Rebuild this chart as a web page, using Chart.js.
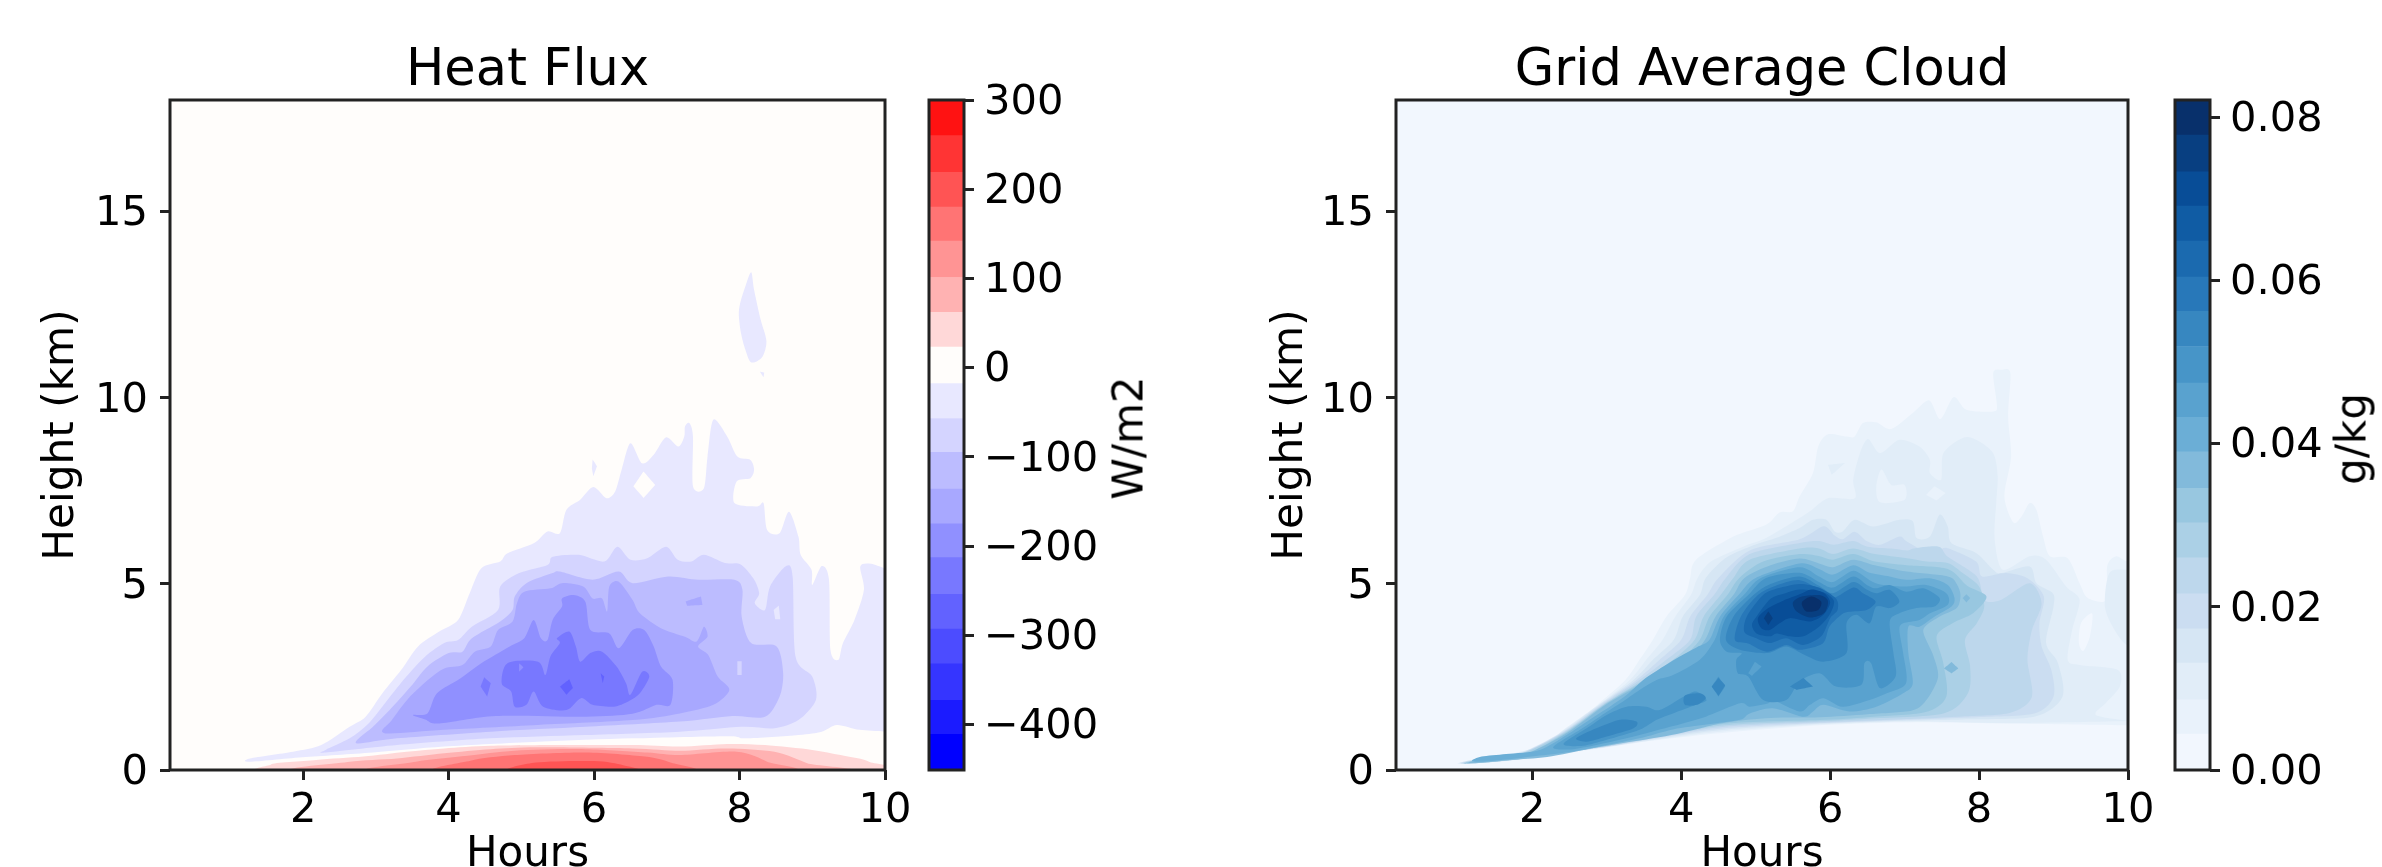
<!DOCTYPE html>
<html>
<head>
<meta charset="utf-8">
<title>Heat Flux and Grid Average Cloud</title>
<script src="https://cdn.jsdelivr.net/npm/chart.js@4"></script>
<style>
    html, body { margin: 0; padding: 0; background: #fff; width: 2382px; height: 867px; overflow: hidden; }
    #page { position: relative; width: 2382px; height: 867px; overflow: hidden; filter: blur(0.7px); }
    canvas { position: absolute; top: 0; }
    .cbarLabel { position: absolute; font: 42px "DejaVu Sans"; color: #000; white-space: nowrap; transform: translate(-50%, -50%) rotate(-90deg); }
</style>
</head>
<body>
<div id="page">
    <canvas id="heatChart" style="left:0;width:925px;height:900px" width="925" height="900"></canvas>
    <canvas id="heatBar" style="left:900px;width:310px;height:900px" width="310" height="900"></canvas>
    <canvas id="cloudChart" style="left:1226px;width:942px;height:900px" width="942" height="900"></canvas>
    <canvas id="cloudBar" style="left:2145px;width:237px;height:900px" width="237" height="900"></canvas>
    <div class="cbarLabel" style="left:1128px;top:438px">W/m2</div>
    <div class="cbarLabel" style="left:2351px;top:439px">g/kg</div>
</div>
<script>
// ticks
var hourTicks = [2, 4, 6, 8, 10];
var heightTicks = [0, 5, 10, 15];
var heatBarTicks = [-400, -300, -200, -100, 0, 100, 200, 300];
var heatBarLabels = ['\u2212400', '\u2212300', '\u2212200', '\u2212100', '0', '100', '200', '300'];
var cloudBarTicks = [0, 0.02, 0.04, 0.06, 0.08];
var cloudBarLabels = ['0.00', '0.02', '0.04', '0.06', '0.08'];

// colour bar bands, bottom to top
var heatEdges = [-451, -411, -373, -332, -293, -254, -213, -175, -136, -95, -57, -18, 23, 62, 101, 142, 180, 219, 260, 300];
var cloudEdges = [0, 0.0044, 0.0086, 0.0131, 0.0173, 0.0216, 0.026, 0.0303, 0.0345, 0.039, 0.0432, 0.0474, 0.0519, 0.0562, 0.0604, 0.0648, 0.0691, 0.0733, 0.0778, 0.0821];
var heatColors = ['#0000ff', '#1b1bff', '#3535ff', '#4c4cff', '#6262ff', '#7878ff', '#9090ff', '#a8a8ff', '#bcbcff', '#d4d4ff', '#e8e8ff', '#fffdfb', '#ffd8d8', '#ffb2b2', '#ff9494', '#ff7474', '#ff5454', '#ff3434', '#ff1212'];
var cloudColors = ['#f2f7fe', '#e9f2fb', '#e1edf8', '#d6e6f4', '#cbddf1', '#bdd7ec', '#abd0e6', '#98c7e0', '#82badb', '#6baed6', '#59a2cf', '#4795c8', '#3787c0', '#2878b9', '#1b6aaf', '#105ca4', '#084d97', '#083f81', '#08306b'];

// Heat flux contours: [hours, km]
var plotCorners = [[0.17, 0], [10, 0], [10, 18], [0.17, 18]];
var heatPlume = [[8.16,13.37],[8.08,12.99],[8.01,12.55],[7.99,12.23],[8.02,11.74],[8.08,11.29],[8.16,10.95],[8.31,11.09],[8.37,11.52],[8.29,12.1],[8.2,12.9]];
var heatSpeck = [[8.28,10.7],[8.34,10.68],[8.33,10.55]];
var heatLobe = [[5.98,8.34],[6.04,8.16],[5.99,7.89],[5.97,8.1]];
var heatM1 = [[1.27,0.31],[1.86,0.49],[2.25,0.67],[2.64,1.16],[2.86,1.43],[3.09,2.06],[3.35,2.69],[3.58,3.32],[3.87,3.72],[4.13,4.03],[4.29,4.75],[4.45,5.42],[4.71,5.6],[4.81,5.82],[5.17,6.09],[5.36,6.41],[5.53,6.36],[5.62,6.99],[5.81,7.26],[5.99,7.6],[6.17,7.3],[6.29,7.48],[6.38,8.07],[6.5,8.78],[6.66,8.24],[6.82,8.47],[6.99,8.94],[7.16,8.69],[7.24,8.96],[7.25,9.23],[7.31,9.32],[7.36,8.96],[7.36,7.62],[7.51,7.57],[7.56,8.42],[7.64,9.41],[7.83,8.96],[7.97,8.42],[8.15,8.33],[8.2,8.07],[8.15,7.84],[7.96,7.75],[7.93,7.17],[8.24,7.08],[8.33,7.17],[8.38,6.45],[8.55,6.36],[8.68,6.94],[8.81,6.27],[8.84,5.78],[8.99,5.38],[9,4.97],[9.13,5.48],[9.23,5.11],[9.25,3.23],[9.36,2.96],[9.42,3.4],[9.58,4.03],[9.71,4.84],[9.66,5.47],[9.81,5.54],[10.05,5.38],[10.3,5.3],[10.3,1.03],[10.05,1.03],[9.65,1.08],[9.34,1.21],[9.13,1.03],[8.81,0.94],[8.09,0.85],[7.83,0.91],[6.53,0.85],[5.23,0.76],[3.94,0.63],[2.96,0.47],[1.99,0.34],[1.27,0.22]];
var heatHole = [[6.68,8.02],[6.84,7.66],[6.68,7.31],[6.54,7.62]];
var heatM2 = [[2.31,0.54],[2.64,0.85],[2.9,1.25],[3.16,1.88],[3.42,2.51],[3.68,3.05],[3.94,3.41],[4.13,3.49],[4.32,3.85],[4.68,4.3],[4.71,4.93],[4.97,5.29],[5.36,5.51],[5.43,5.73],[5.79,5.78],[6.14,5.6],[6.32,6],[6.5,5.65],[6.73,5.69],[6.99,6],[7.15,5.65],[7.34,5.6],[7.51,5.78],[7.8,5.56],[8.01,5.53],[8.19,5.15],[8.27,4.75],[8.21,4.48],[8.35,4.3],[8.42,4.93],[8.64,5.48],[8.73,5.2],[8.77,3.05],[9,2.51],[9.05,1.88],[8.81,1.34],[8.48,1.12],[8.03,1.16],[7.18,1.03],[5.88,0.94],[4.58,0.85],[3.29,0.67],[2.31,0.47]];
var heatM2Spot = [[8.47,4.3],[8.54,4.42],[8.56,4.05],[8.49,4.05]];
var heatM3 = [[2.73,0.72],[2.96,1.16],[3.19,1.61],[3.48,2.24],[3.71,2.78],[4,3.14],[4.19,3.18],[4.32,3.54],[4.71,3.99],[4.88,4.3],[4.91,4.66],[5.07,5.02],[5.43,5.29],[5.53,5.33],[5.98,5.11],[6.34,5.33],[6.53,5.02],[7.02,5.2],[7.44,5.11],[7.93,5.11],[8.04,4.84],[8.03,4.12],[8.16,3.41],[8.51,3.32],[8.6,2.6],[8.55,1.97],[8.35,1.43],[7.9,1.45],[7.18,1.3],[5.88,1.16],[4.58,1.03],[3.29,0.85]];
var heatM3Spot = [[7.97,2.92],[8.03,2.92],[8.03,2.55],[7.97,2.55]];
var heatM4 = [[3.12,0.99],[3.22,1.34],[3.45,1.93],[3.74,2.46],[3.94,2.73],[4.19,2.82],[4.36,3.18],[4.58,3.32],[4.68,3.76],[4.88,3.99],[4.94,4.48],[5.04,4.79],[5.4,4.88],[5.56,5.02],[5.85,4.93],[5.98,4.61],[6.11,4.61],[6.18,4.26],[6.21,4.93],[6.34,5.06],[6.53,4.57],[6.63,4.21],[6.92,3.81],[7.25,3.58],[7.41,3.45],[7.51,3.85],[7.56,3.58],[7.43,3.32],[7.57,3.09],[7.7,2.51],[7.86,2.15],[7.64,1.75],[7.18,1.52],[6.53,1.34],[5.23,1.21],[3.94,1.08]];
var heatM4Blob = [[7.26,4.53],[7.47,4.66],[7.49,4.43],[7.28,4.41]];
var heatM5 = [[3.51,1.48],[3.71,1.52],[3.84,2.06],[4.16,2.46],[4.45,2.87],[4.84,3.32],[5.04,3.54],[5.17,4.03],[5.27,3.54],[5.36,3.49],[5.43,4.03],[5.56,4.39],[5.56,4.61],[5.72,4.7],[5.88,4.52],[5.95,3.76],[6.21,3.67],[6.34,3.27],[6.53,3.76],[6.69,3.76],[6.82,3.32],[6.92,2.78],[7.08,2.42],[7.05,1.75],[6.86,1.75],[6.53,1.51],[5.88,1.43],[4.65,1.45],[3.87,1.25],[3.68,1.36]];
var heatM6 = [[4.73,2.33],[4.81,2.87],[5.23,2.91],[5.33,2.55],[5.4,3.05],[5.53,3.41],[5.49,3.54],[5.66,3.72],[5.75,3.32],[5.81,2.91],[5.95,3.14],[6.11,3.18],[6.31,2.78],[6.44,2.33],[6.5,2.02],[6.66,2.64],[6.76,2.51],[6.63,2.06],[6.47,1.84],[6.27,1.7],[5.98,1.75],[5.82,1.93],[5.62,1.61],[5.3,1.7],[5.17,2.11],[5.07,1.75],[4.91,1.7],[4.86,2.11]];
var heatM6Blob = [[4.44,2.24],[4.49,2.49],[4.58,2.33],[4.53,1.97]];
var heatM6Hole = [[4.97,2.87],[5.03,2.76],[4.97,2.64]];
var heatM7a = [[5.53,2.24],[5.66,2.44],[5.71,2.2],[5.62,2.02]];
var heatM7b = [[6.09,2.6],[6.14,2.51],[6.12,2.33]];
var heatP1 = [[1.56,0.15],[2.18,0.27],[2.83,0.36],[3.42,0.49],[3.94,0.58],[4.58,0.65],[5.56,0.67],[6.53,0.67],[7.18,0.63],[7.83,0.7],[8.35,0.67],[9,0.54],[9.39,0.4],[9.78,0.22],[9.77,-0.1],[2,-0.1]];
var heatP2 = [[2.15,-0.05],[2.64,0.22],[3.29,0.31],[3.94,0.45],[4.58,0.56],[5.23,0.61],[6.53,0.58],[7.18,0.52],[7.83,0.58],[8.48,0.49],[8.93,0.18],[9.19,-0.05]];
var heatP3 = [[3.09,-0.05],[3.55,0.22],[4.26,0.38],[4.91,0.52],[5.88,0.56],[6.73,0.47],[7.18,0.4],[7.96,0.49],[8.38,0.22],[8.48,-0.05]];
var heatP4 = [[3.9,-0.05],[4.3,0.25],[4.91,0.4],[5.88,0.47],[6.7,0.36],[7.05,0.2],[7.25,-0.05]];
var heatP5 = [[4.85,-0.03],[5.2,0.2],[6,0.24],[6.4,0.13],[6.55,-0.03]];

// Cloud contours: [hours, km]
var cloudL1 = [[1.03,0.2],[1.3,0.3],[1.7,0.4],[2.21,0.67],[2.5,1.1],[2.9,1.8],[3.25,2.42],[3.44,2.96],[3.62,3.5],[3.8,4.12],[4.05,4.7],[4.12,5.16],[4.2,5.65],[4.7,6.27],[5.14,6.59],[5.32,6.92],[5.5,6.95],[5.59,7.35],[5.77,7.98],[5.84,8.69],[5.97,9.02],[6.22,8.96],[6.33,8.96],[6.44,9.32],[6.62,9.34],[6.82,9.16],[7.11,9.59],[7.33,9.93],[7.48,9.43],[7.66,10.02],[7.83,9.68],[8.19,9.63],[8.24,9.81],[8.19,10.66],[8.3,10.75],[8.42,10.66],[8.39,9.5],[8.43,8.42],[8.34,7.35],[8.46,6.65],[8.57,6.81],[8.68,7.17],[8.77,6.99],[8.86,6.27],[8.95,5.74],[9.19,5.69],[9.35,5.02],[9.46,4.62],[9.71,4.57],[9.72,5.47],[9.84,5.74],[10,5.6],[10.3,5.6],[10.3,1.2],[10,1.2],[8.42,1.24],[7.14,1.28],[5.86,1.2],[4.58,1],[3.62,0.79],[2.98,0.6],[2.34,0.43],[1.7,0.25],[1.06,0.16]];
var cloudHole = [[9.34,3.42],[9.37,3.95],[9.52,4.2],[9.49,3.6],[9.4,3.2]];
var cloudL2 = [[1.03,0.2],[1.35,0.33],[1.76,0.45],[2.28,0.75],[2.37,1],[2.92,1.8],[3.31,2.42],[3.53,2.96],[3.75,3.5],[3.92,4.12],[4.13,4.7],[4.22,5.16],[4.4,5.6],[4.83,6],[5.14,6.23],[5.55,6.72],[5.73,6.95],[5.97,7.3],[6.33,7.3],[6.31,7.8],[6.4,8.51],[6.51,8.89],[6.67,8.51],[6.93,8.87],[7.2,8.69],[7.34,8.33],[7.34,7.98],[7.49,7.8],[7.52,8.51],[7.78,8.92],[7.96,8.87],[8.19,8.51],[8.25,7.89],[8.23,7.17],[8.21,6.18],[8.32,5.38],[8.68,5.74],[8.9,5.65],[9.17,4.93],[9.35,4.57],[9.25,3.76],[9.19,2.96],[9.35,2.82],[9.86,2.69],[9.89,2.24],[9.7,1.79],[9.57,1.48],[10,1.33],[10.3,1.33],[8.42,1.26],[7.14,1.3],[5.86,1.22],[4.58,1.04],[3.62,0.8],[2.98,0.61],[2.34,0.44],[1.7,0.255],[1.1,0.165]];
var cloudL2Edge = [[9.69,4.39],[9.75,5.29],[10,5.38],[10.3,5.38],[10.3,3.34],[10,3.34],[9.82,3.76]];
var cloudHoleA = [[6.69,8.07],[6.82,7.66],[7,7.66],[7,7.26],[6.67,7.19],[6.62,7.62]];
var cloudHoleB = [[7.29,7.39],[7.4,7.62],[7.55,7.44],[7.43,7.24]];
var cloudSpotA = [[5.97,8.2],[6.2,8.25],[6.02,7.93]];
var cloudL3 = [[1.04,0.2],[1.4,0.34],[1.85,0.47],[2.38,1],[2.93,1.8],[3.36,2.42],[3.62,2.96],[3.9,3.5],[4.02,4.12],[4.25,4.7],[4.33,5.16],[4.6,5.7],[4.92,6],[5.3,6.25],[5.59,6.5],[5.77,6.72],[5.95,6.72],[6.06,6.41],[6.17,6.41],[6.33,6.72],[6.58,6.54],[6.93,6.72],[7.11,6.68],[7.16,6.23],[7.34,6.27],[7.47,6.86],[7.58,6.54],[7.63,6.09],[7.96,5.83],[8.19,5.38],[8.3,5.29],[8.68,5.47],[8.77,5.02],[8.99,4.75],[9,4.39],[8.9,3.41],[9.06,2.87],[9.12,1.97],[8.74,1.43],[7.78,1.36],[7.14,1.33],[5.86,1.24],[4.58,1.08],[3.62,0.82],[2.98,0.615],[2.34,0.445],[1.7,0.26],[1.12,0.17]];
var cloudL4 = [[1.06,0.2],[1.4,0.33],[1.85,0.45],[2.4,1],[2.95,1.8],[3.4,2.42],[3.71,2.96],[4,3.5],[4.12,4.12],[4.35,4.7],[4.5,5.16],[4.92,5.9],[5.59,6.2],[5.91,6.55],[6.06,6.3],[6.17,6.2],[6.33,6.4],[6.49,6.15],[6.67,6.05],[6.93,6.27],[7.03,6.14],[7.34,5.8],[7.47,5.9],[7.58,5.96],[7.96,5.6],[8.04,5.2],[8.36,5.29],[8.65,5.15],[8.87,4.66],[8.81,3.94],[8.84,3.32],[8.97,2.69],[9,1.97],[8.74,1.52],[7.97,1.42],[7.14,1.36],[5.86,1.26],[4.58,1.12],[3.62,0.84],[2.98,0.62],[2.34,0.45],[1.7,0.26],[1.14,0.17]];
var cloudL5 = [[1.08,0.2],[1.4,0.32],[1.85,0.44],[2.41,1],[2.97,1.8],[3.44,2.42],[3.8,2.96],[4.12,3.5],[4.2,4.12],[4.44,4.7],[4.6,5.16],[4.92,5.8],[5.59,6.1],[5.85,6.15],[6.05,6.05],[6.31,6.15],[6.5,6],[6.82,5.95],[7.03,5.9],[7.14,5.96],[7.46,6],[7.58,5.73],[7.97,5.2],[8.07,4.57],[8.29,4.57],[8.68,5.02],[8.84,4.48],[8.71,3.76],[8.65,2.96],[8.71,1.97],[8.42,1.54],[7.78,1.44],[7.14,1.38],[5.86,1.28],[4.58,1.16],[3.62,0.86],[2.98,0.63],[2.34,0.46],[1.7,0.26],[1.16,0.175]];
var cloudL6 = [[1.1,0.2],[1.4,0.32],[1.85,0.43],[2.43,1],[2.99,1.8],[3.49,2.42],[3.89,2.96],[4.18,3.5],[4.3,4.12],[4.53,4.7],[4.7,5.16],[4.92,5.65],[5.59,5.95],[5.85,5.95],[6.04,5.8],[6.31,5.95],[6.6,5.8],[7.03,5.69],[7.3,5.6],[7.58,5.56],[7.78,5.29],[8,4.93],[8.07,4.39],[7.97,3.94],[7.81,3.49],[7.88,2.78],[7.85,2.06],[7.52,1.52],[6.5,1.38],[5.86,1.31],[4.58,1.2],[3.62,0.88],[2.98,0.64],[2.4,0.47],[1.7,0.26],[1.18,0.18]];
var cloudL7 = [[1.12,0.2],[1.4,0.31],[1.9,0.43],[2.45,1],[3,1.8],[3.53,2.42],[3.98,2.96],[4.25,3.5],[4.38,4.12],[4.62,4.7],[4.78,5.16],[5.1,5.6],[5.59,5.8],[5.85,5.75],[6.04,5.65],[6.31,5.8],[6.6,5.6],[7.03,5.5],[7.58,5.4],[7.84,4.95],[8.1,4.66],[7.92,4.21],[7.65,3.95],[7.43,3.6],[7.52,2.87],[7.56,1.97],[7.27,1.55],[6.5,1.42],[5.86,1.34],[4.58,1.24],[3.62,0.89],[2.98,0.65],[2.53,0.5],[1.7,0.27],[1.2,0.18]];
var cloudL8 = [[1.15,0.21],[1.4,0.31],[1.9,0.42],[2.47,1],[3.02,1.8],[3.58,2.42],[4.07,2.96],[4.32,3.5],[4.46,4.12],[4.7,4.7],[4.85,5.16],[5.2,5.5],[5.59,5.68],[5.85,5.55],[6.04,5.45],[6.31,5.65],[6.6,5.5],[7.03,5.33],[7.58,5.2],[7.7,5],[7.75,4.7],[7.7,4.35],[7.45,4.1],[7.25,3.76],[7.38,3.1],[7.45,2.5],[7.3,1.9],[7.1,1.6],[6.5,1.5],[5.86,1.42],[5.2,1.4],[4.58,1.27],[3.94,0.97],[3.3,0.75],[2.79,0.58],[2.2,0.35],[1.7,0.27],[1.25,0.19]];
var cloudL8Spot = [[7.78,4.62],[7.83,4.72],[7.88,4.62],[7.83,4.5]];
var cloudL8SpotB = [[7.53,2.73],[7.63,2.9],[7.72,2.73],[7.63,2.6]];
var cloudL9 = [[1.19,0.25],[1.32,0.36],[1.65,0.43],[2.1,0.54],[2.46,0.94],[2.77,1.35],[3.04,1.7],[3.27,2.02],[3.49,2.42],[3.76,2.78],[3.98,3.05],[4.21,3.3],[4.38,3.5],[4.52,4.12],[4.77,4.7],[5,5.16],[5.59,5.55],[5.85,5.4],[6.04,5.25],[6.31,5.5],[6.53,5.3],[6.8,5.2],[7.02,5.11],[7.34,5.15],[7.58,4.97],[7.67,4.62],[7.63,4.39],[7.4,4.12],[7.2,3.85],[7.05,3.85],[7.05,3.14],[7.11,2.33],[6.98,2.06],[6.62,1.7],[6.26,1.57],[5.91,1.75],[5.77,1.57],[5.64,1.43],[5.23,1.66],[4.92,1.52],[4.79,1.35],[4.34,1.22],[3.89,1.09],[3.44,0.85],[3,0.67],[2.55,0.5],[2.1,0.39],[1.65,0.28],[1.32,0.22]];
var cloudL10 = [[2.28,0.61],[2.64,1.08],[2.91,1.44],[3.18,1.79],[3.44,2.15],[3.67,2.42],[3.89,2.55],[4.25,2.96],[4.45,3.5],[4.57,4.12],[4.84,4.7],[5.07,5.16],[5.59,5.45],[5.85,5.2],[6.04,5.05],[6.31,5.35],[6.53,5.1],[6.69,4.98],[7.02,4.93],[7.29,4.97],[7.56,4.75],[7.58,4.44],[7.34,4.21],[7.2,4.03],[6.98,3.94],[6.93,3.76],[6.98,3.14],[7.02,2.33],[6.76,2.06],[6.53,1.88],[6.17,1.7],[5.91,1.93],[5.73,1.75],[5.59,1.57],[5.23,1.88],[5.17,1.79],[4.92,1.7],[4.79,1.79],[4.34,1.44],[3.89,1.18],[3.44,0.94],[3,0.73],[2.55,0.56]];
var cloudL11 = [[4.52,3.5],[4.61,4.12],[4.9,4.7],[5.14,5.16],[5.59,5.3],[5.85,5.05],[6.04,4.9],[6.31,5.2],[6.51,4.95],[6.62,4.88],[6.8,4.97],[7.02,4.79],[7.25,4.88],[7.47,4.62],[7.4,4.39],[7.16,4.35],[6.93,4.21],[6.8,3.99],[6.85,3.14],[6.88,2.51],[6.67,2.2],[6.55,2.87],[6.46,2.87],[6.42,2.29],[6.08,2.24],[5.86,2.6],[5.59,2.38],[5.41,1.88],[5.1,1.88],[4.9,2.51],[4.76,2.6],[4.74,2.96],[4.81,3.14],[4.61,3.18]];
var cloudL11Hole = [[4.9,2.6],[4.99,2.91],[5.08,2.78],[4.95,2.53]];
var cloudL11Base = [[2.42,0.7],[2.73,1.12],[3,1.48],[3.27,1.7],[3.53,1.7],[3.71,1.61],[4.03,1.97],[4.2,2.11],[4.34,1.88],[4.2,1.75],[3.89,1.52],[3.67,1.35],[3.44,1.08],[3,0.81],[2.68,0.65]];
var cloudL11Spot = [[4.41,2.24],[4.5,2.51],[4.59,2.24],[4.5,1.97]];
var cloudL12 = [[4.6,3.5],[4.7,4.12],[4.97,4.7],[5.2,5],[5.59,5.2],[5.85,4.95],[6.04,4.75],[6.31,5.05],[6.49,4.85],[6.62,4.75],[6.8,4.84],[6.93,4.53],[6.8,4.35],[6.62,4.39],[6.53,3.94],[6.35,4.17],[6.22,3.94],[6.22,3.14],[5.91,2.91],[5.66,3.09],[5.41,3.32],[5.15,3.14],[4.79,3.23]];
var cloudL12Base = [[2.59,0.85],[2.86,1.12],[3.18,1.35],[3.4,1.3],[3.36,1.12],[3,0.9],[2.73,0.76]];
var cloudL12a = [[4.41,2.24],[4.5,2.47],[4.59,2.28],[4.5,1.99]];
var cloudL12b = [[5.46,2.24],[5.64,2.47],[5.77,2.24],[5.55,2.15]];
var cloudL12c = [[4.05,2],[4.25,2.06],[4.33,1.93],[4.21,1.75],[4.05,1.75]];
var cloudL13 = [[4.72,3.5],[4.8,4.12],[5.03,4.7],[5.27,4.95],[5.59,5.1],[5.85,4.85],[6.04,4.62],[6.31,4.9],[6.44,4.75],[6.61,4.53],[6.49,4.3],[6.25,4.25],[6.15,4.17],[5.99,3.85],[5.9,3.4],[5.59,3.23],[5.41,3.36],[5.15,3.18],[4.9,3.4]];
var cloudL14 = [[4.85,3.7],[4.88,4.12],[5.1,4.7],[5.3,4.88],[5.59,5],[5.85,4.9],[6.08,4.6],[6.1,4.3],[6,4.08],[5.88,3.59],[5.64,3.36],[5.41,3.54],[5.19,3.41],[5.01,3.54]];
var cloudL15 = [[4.95,3.9],[5.01,4.12],[5.2,4.6],[5.4,4.75],[5.59,4.85],[5.9,4.78],[6.05,4.55],[6,4.2],[5.85,3.85],[5.64,3.59],[5.46,3.59],[5.28,3.67],[5.19,3.59],[5.01,3.67]];
var cloudL16 = [[5.03,4.08],[5.17,4.35],[5.37,4.55],[5.59,4.72],[5.75,4.85],[5.92,4.75],[6,4.5],[5.91,4.17],[5.73,3.99],[5.46,4.08],[5.32,3.94],[5.19,3.76],[5.08,3.8]];
var cloudL17 = [[5.5,4.5],[5.62,4.66],[5.85,4.7],[5.97,4.55],[5.92,4.22],[5.73,4.1],[5.55,4.26]];
var cloudL17b = [[5.11,4.08],[5.17,4.26],[5.23,4.08],[5.17,3.9]];
var cloudL18 = [[5.62,4.5],[5.75,4.66],[5.88,4.52],[5.84,4.3],[5.68,4.26]];

// paint order, first is at the back
var heatLayers = [
    [plotCorners, 11], [heatM1, 10], [heatPlume, 10], [heatSpeck, 10], [heatLobe, 10], [heatHole, 11],
    [heatM2, 9], [heatM2Spot, 10], [heatM3, 8], [heatM3Spot, 9], [heatM4, 7], [heatM4Blob, 7], [heatM5, 6],
    [heatM6, 5], [heatM6Blob, 5], [heatM6Hole, 6], [heatM7a, 4], [heatM7b, 4],
    [heatP1, 12], [heatP2, 13], [heatP3, 14], [heatP4, 15], [heatP5, 16]
];
var cloudLayers = [
    [plotCorners, 0], [cloudL1, 1], [cloudHole, 0], [cloudL2, 2], [cloudL2Edge, 2], [cloudHoleA, 1], [cloudHoleB, 1], [cloudSpotA, 2],
    [cloudL3, 3], [cloudL4, 4], [cloudL5, 5], [cloudL6, 6], [cloudL7, 7], [cloudL8, 8], [cloudL8Spot, 8], [cloudL8SpotB, 8],
    [cloudL9, 9], [cloudL10, 10], [cloudL11, 11], [cloudL11Hole, 10], [cloudL11Base, 11], [cloudL11Spot, 11],
    [cloudL12, 12], [cloudL12Base, 12], [cloudL12a, 12], [cloudL12b, 12], [cloudL12c, 12],
    [cloudL13, 13], [cloudL14, 14], [cloudL15, 15], [cloudL16, 16], [cloudL17, 17], [cloudL17b, 17], [cloudL18, 18]
];

var FONT = '"DejaVu Sans"';
var INK = '#222';

// fills each closed contour from the points the scales have placed, rounded through the points
var contourFill = {
    id: 'contourFill',
    beforeDatasetDraw: function(chart, args) {
        var pts = args.meta.data, n = pts.length;
        if (args.meta.type !== 'scatter' || !n) return;
        var ctx = chart.ctx, a = chart.chartArea, k = n > 4 ? 1 / 7 : 0;
        ctx.save();
        ctx.beginPath();
        ctx.rect(a.left, a.top, a.right - a.left, a.bottom - a.top);
        ctx.clip();
        ctx.beginPath();
        ctx.moveTo(pts[0].x, pts[0].y);
        for (var i = 0; i < n; i++) {
            var p0 = pts[(i + n - 1) % n], p1 = pts[i], p2 = pts[(i + 1) % n], p3 = pts[(i + 2) % n];
            ctx.bezierCurveTo(p1.x + (p2.x - p0.x) * k, p1.y + (p2.y - p0.y) * k, p2.x - (p3.x - p1.x) * k, p2.y - (p3.y - p1.y) * k, p2.x, p2.y);
        }
        ctx.closePath();
        ctx.fillStyle = chart.data.datasets[args.index].backgroundColor;
        ctx.fill();
        ctx.restore();
    }
};

// axes box on all four sides, y tick labels sit a little under their ticks
var frame = {
    id: 'frame',
    beforeDraw: function(chart) {
        chart.scales.y.getLabelItems().forEach(function(item) {
            item.textOffset += 3;
        });
    },
    afterDatasetsDraw: function(chart) {
        var a = chart.chartArea, ctx = chart.ctx;
        ctx.save();
        ctx.strokeStyle = INK;
        ctx.lineWidth = 3;
        ctx.strokeRect(a.left, a.top, a.right - a.left, a.bottom - a.top);
        ctx.restore();
    }
};

function setTicks(values) {
    return function(scale) {
        scale.ticks = values.map(function(v) { return { value: v }; });
    };
}

function fixSize(width, height) {
    return function(scale) {
        if (width !== null) scale.width = width;
        if (height !== null) scale.height = height;
        scale.paddingLeft = scale.paddingRight = scale.paddingTop = scale.paddingBottom = 0;
    };
}

function tickGrid() {
    return { drawOnChartArea: false, drawTicks: true, tickLength: 10, tickWidth: 3, tickColor: INK };
}

function contourChart(id, title, layers, colors, yTitlePad) {
    new Chart(document.getElementById(id), {
        type: 'scatter',
        data: {
            datasets: layers.map(function(l, i) {
                return {
                    data: l[0].map(function(p) { return { x: p[0], y: p[1] }; }),
                    backgroundColor: colors[l[1]],
                    order: layers.length - i,
                    pointRadius: 0,
                    showLine: false
                };
            })
        },
        options: {
            responsive: false,
            animation: false,
            events: [],
            layout: { padding: { left: 0, right: 40, top: 0, bottom: 20 } },
            plugins: {
                legend: { display: false },
                tooltip: { enabled: false },
                title: {
                    display: true,
                    text: title,
                    fullSize: false,
                    color: '#000',
                    font: { family: FONT, size: 51, weight: 'normal', lineHeight: 1 },
                    padding: { top: 46, bottom: 3 }
                }
            },
            scales: {
                x: {
                    min: 0.17,
                    max: 10,
                    border: { display: false },
                    grid: tickGrid(),
                    afterBuildTicks: setTicks(hourTicks),
                    afterFit: fixSize(null, 110),
                    ticks: { color: '#000', padding: 6, autoSkip: false, maxRotation: 0, font: { family: FONT, size: 41.6 } },
                    title: { display: true, text: 'Hours', color: '#000', padding: 0, font: { family: FONT, size: 42, lineHeight: 1.2 } }
                },
                y: {
                    min: 0,
                    max: 18,
                    border: { display: false },
                    grid: tickGrid(),
                    afterBuildTicks: setTicks(heightTicks),
                    afterFit: fixSize(170, null),
                    ticks: { color: '#000', padding: 12, autoSkip: false, font: { family: FONT, size: 41.6 } },
                    title: { display: true, text: 'Height (km)', color: '#000', padding: { top: yTitlePad, bottom: 0 }, font: { family: FONT, size: 42.2, lineHeight: 1.2 } }
                }
            }
        },
        plugins: [contourFill, frame]
    });
}

function colorBar(id, edges, colors, tickValues, tickLabels, left, right) {
    new Chart(document.getElementById(id), {
        type: 'bar',
        data: {
            labels: [''],
            datasets: colors.map(function(c, i) {
                return { data: [[edges[i], edges[i + 1]]], backgroundColor: c, borderWidth: 0 };
            })
        },
        options: {
            responsive: false,
            animation: false,
            events: [],
            layout: { padding: { left: left, right: 0, top: 100, bottom: 130 } },
            datasets: { bar: { grouped: false, barPercentage: 1, categoryPercentage: 1 } },
            plugins: { legend: { display: false }, tooltip: { enabled: false } },
            scales: {
                x: { display: false },
                y: {
                    position: 'right',
                    min: edges[0],
                    max: edges[edges.length - 1],
                    border: { display: false },
                    grid: tickGrid(),
                    afterBuildTicks: setTicks(tickValues),
                    afterFit: fixSize(right, null),
                    ticks: {
                        color: '#000',
                        padding: 10,
                        autoSkip: false,
                        font: { family: FONT, size: 41.6 },
                        callback: function(v, i) { return tickLabels[i]; }
                    }
                }
            }
        },
        plugins: [frame]
    });
}

contourChart('heatChart', 'Heat Flux', heatLayers, heatColors, 37);
contourChart('cloudChart', 'Grid Average Cloud', cloudLayers, cloudColors, 40);
colorBar('heatBar', heatEdges, heatColors, heatBarTicks, heatBarLabels, 29, 246);
colorBar('cloudBar', cloudEdges, cloudColors, cloudBarTicks, cloudBarLabels, 30, 172);
</script>
</body>
</html>
